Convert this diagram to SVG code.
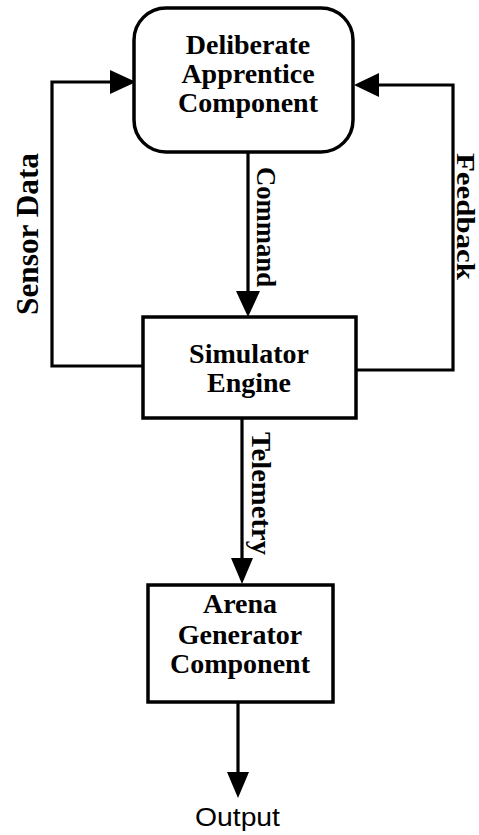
<svg xmlns="http://www.w3.org/2000/svg" width="479" height="835" viewBox="0 0 479 835">
<style>
.box{fill:#fff;stroke:#000;stroke-width:3.5}
.ln{fill:none;stroke:#000;stroke-width:3.2}
.hd{fill:#000;stroke:none}
.nt{font-family:"Liberation Serif","Times New Roman",serif;font-weight:bold;font-size:28px;text-anchor:middle;fill:#000}
.lb{font-family:"Liberation Serif","Times New Roman",serif;font-weight:bold;fill:#000}
.out{font-family:"Liberation Sans",Arial,sans-serif;font-size:25px;fill:#000}
</style>
<rect width="479" height="835" fill="#fff"/>
<g id="connectors">
<path class="ln" d="M143,366 L52,366 L52,82 L114,82"/>
<polygon class="hd" points="110,70 136,82 110,94"/>
<path class="ln" d="M356,370 L453,370 L453,85 L376,85"/>
<polygon class="hd" points="379,73 354,85 379,97"/>
<path class="ln" d="M248,152 L248,294"/>
<polygon class="hd" points="236,291 248,317 260,291"/>
<path class="ln" d="M242,418 L242,560"/>
<polygon class="hd" points="231,558 242,584 253,558"/>
<path class="ln" d="M238,702 L238,775"/>
<polygon class="hd" points="227,772 238,798 249,772"/>
<text class="lb" font-size="32" transform="translate(38,315) rotate(-90)" textLength="162" lengthAdjust="spacingAndGlyphs">Sensor Data</text>
<text class="lb" font-size="25" transform="translate(457,153) rotate(90)" textLength="127" lengthAdjust="spacingAndGlyphs">Feedback</text>
<text class="lb" font-size="28" transform="translate(257,167) rotate(90)" textLength="120" lengthAdjust="spacingAndGlyphs">Command</text>
<text class="lb" font-size="28" transform="translate(252,432) rotate(90)" textLength="123" lengthAdjust="spacingAndGlyphs">Telemetry</text>
</g>
<g id="deliberate">
<rect class="box" x="134" y="8" width="219" height="144" rx="32"/>
<text class="nt" x="248" y="54">Deliberate</text>
<text class="nt" x="248" y="83">Apprentice</text>
<text class="nt" x="248" y="112">Component</text>
</g>
<g id="simulator">
<rect class="box" x="143" y="317" width="213" height="101"/>
<text class="nt" x="249" y="363">Simulator</text>
<text class="nt" x="249" y="392">Engine</text>
</g>
<g id="arena">
<rect class="box" x="148" y="585" width="185" height="117"/>
<text class="nt" x="240" y="613">Arena</text>
<text class="nt" x="240" y="644">Generator</text>
<text class="nt" x="240" y="673">Component</text>
</g>
<g id="output">
<text class="out" x="195" y="826" textLength="85" lengthAdjust="spacingAndGlyphs">Output</text>
</g>
</svg>
